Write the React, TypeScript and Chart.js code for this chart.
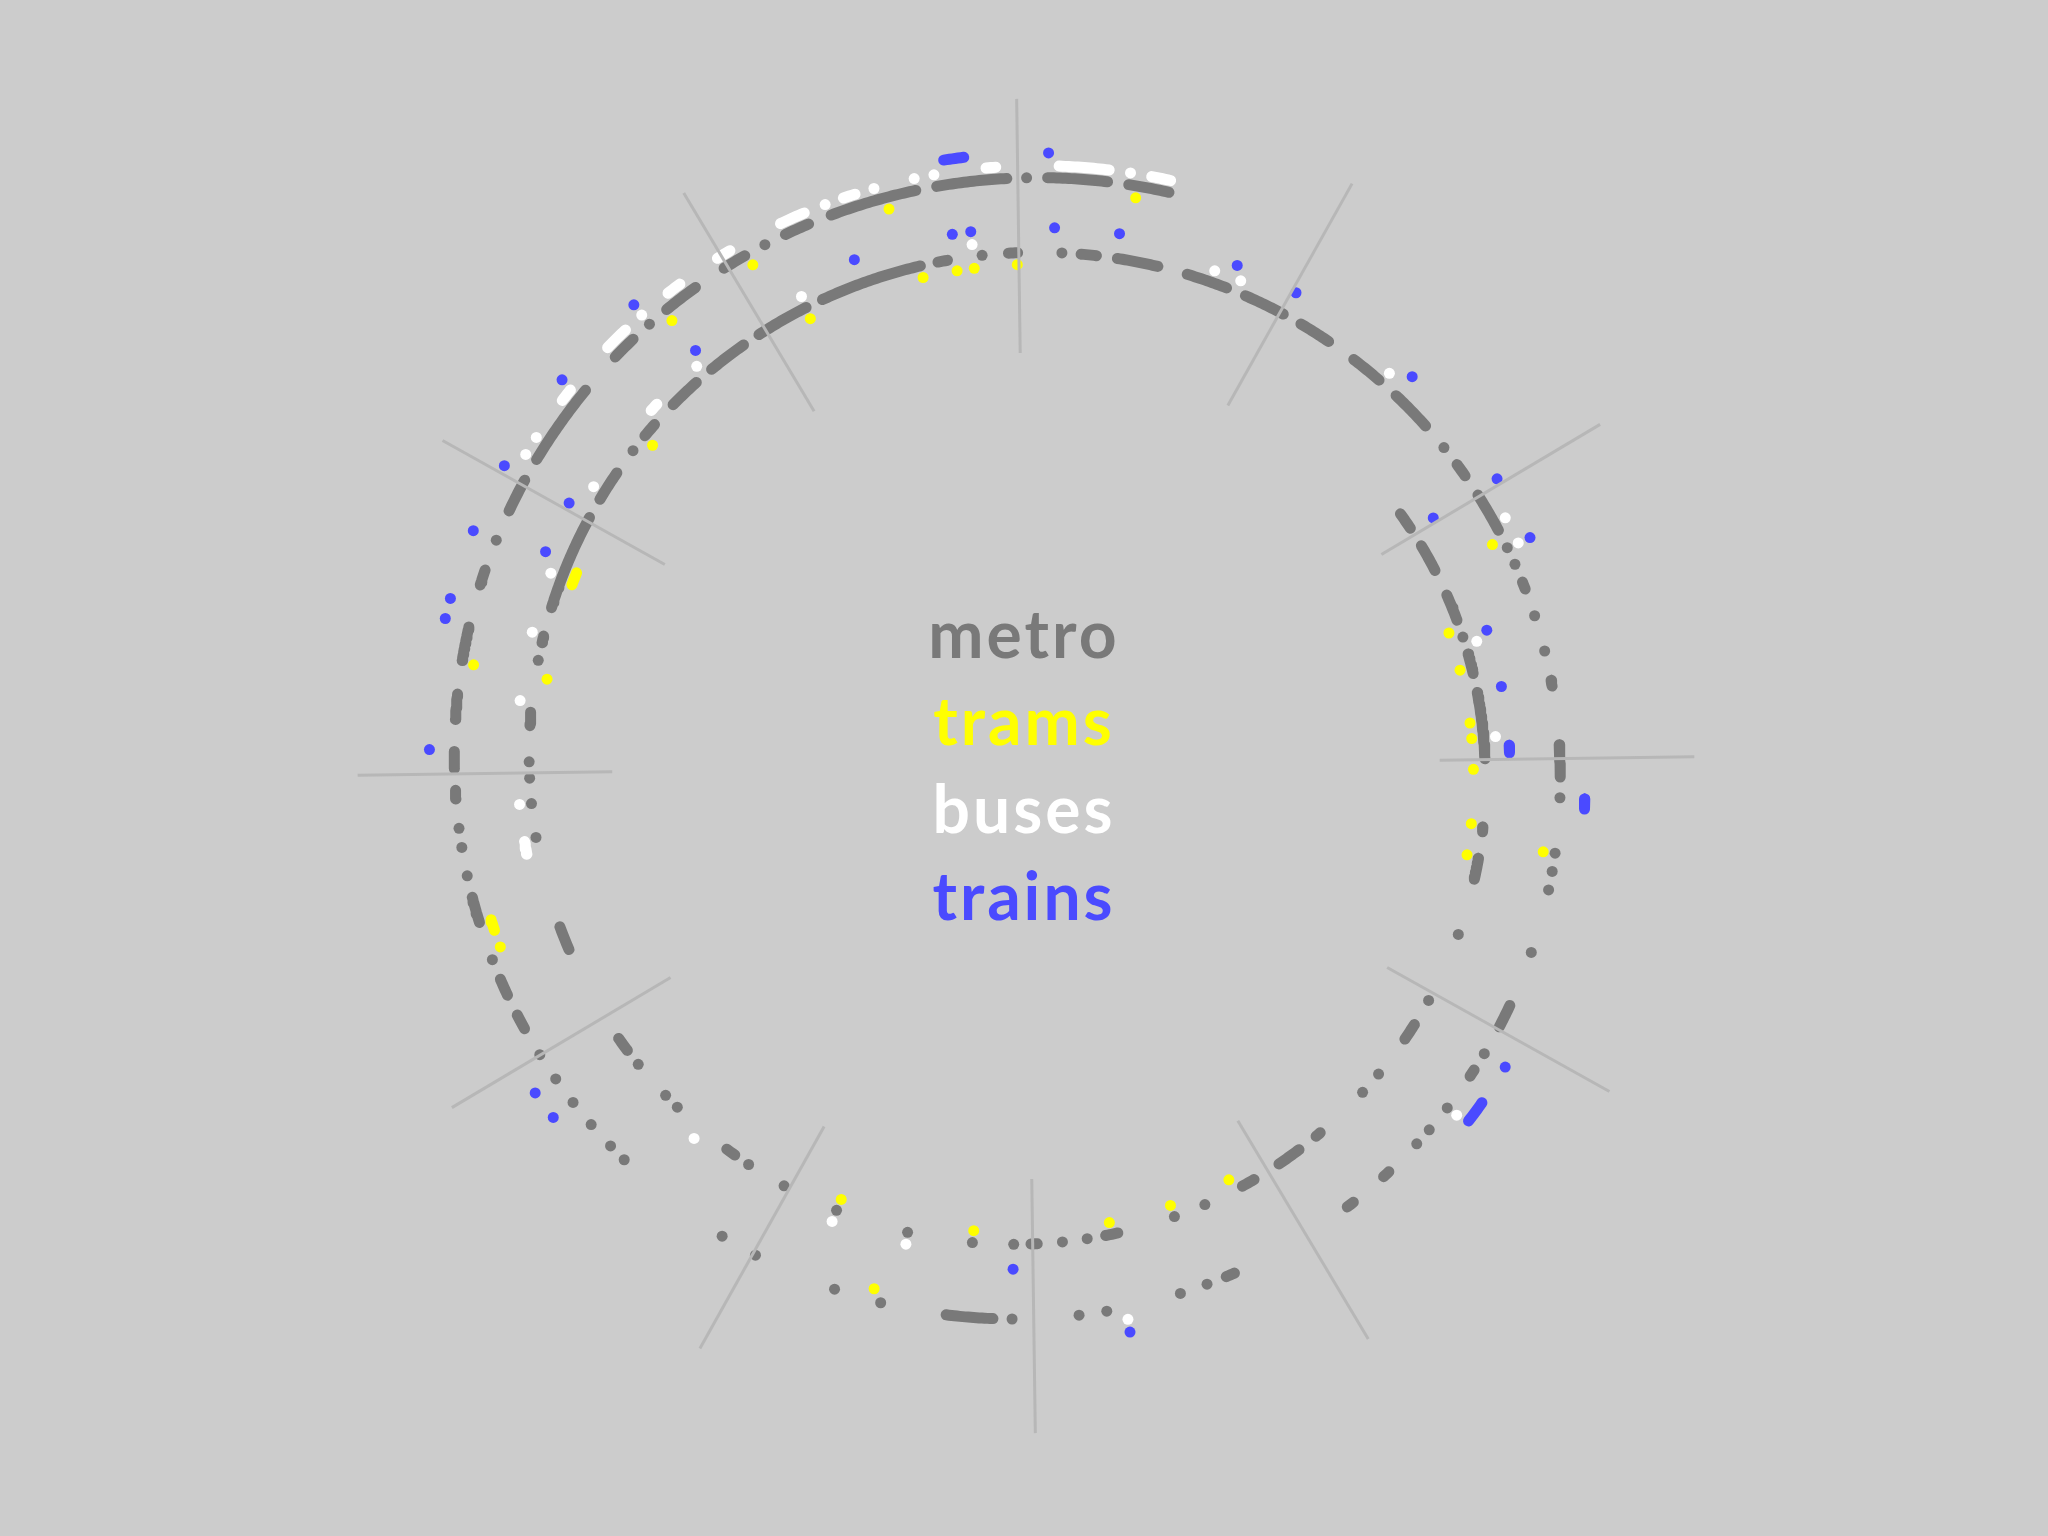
import React, { useEffect, useRef } from 'react';
import Chart from 'chart.js/auto';

// Times are hours along the spiral: 12 h per turn, clockwise from the top.
const hourTicks = [0, 1, 2, 3, 4, 5, 6, 7, 8, 9, 10, 11];
const modeLabels = ['metro', 'trams', 'buses', 'trains'];

const metroDashes: [number, number][] = [
  [1.863, 1.937], [2.024, 2.143], [2.258, 2.372], [2.521, 2.606], [2.687, 2.966],
  [3.25, 3.27], [3.381, 3.469], [4.12, 4.191], [4.708, 4.73], [4.818, 4.918],
  [5.037, 5.091], [5.629, 5.679], [5.955, 5.98], [7.228, 7.267], [7.818, 7.876],
  [8.273, 8.368], [9.159, 9.211], [9.481, 9.507], [9.62, 9.993], [10.073, 10.192],
  [10.368, 10.424], [10.527, 10.648], [10.724, 10.875], [10.945, 11.149], [11.217, 11.604],
  [11.671, 11.707], [11.935, 11.969], [12.204, 12.261], [12.339, 12.491], [12.603, 12.756],
  [12.831, 12.985], [13.059, 13.179], [13.292, 13.411], [13.495, 13.649], [13.83, 13.88],
  [13.964, 14.111], [14.318, 14.345], [14.687, 14.708], [14.92, 15.036], [15.876, 15.96],
  [16.137, 16.163], [16.606, 16.631], [16.77, 16.797], [17.255, 17.286], [18.114, 18.276],
  [20.08, 20.132], [20.207, 20.266], [20.47, 20.558], [20.893, 20.922], [20.995, 21.052],
  [21.159, 21.244], [21.357, 21.471], [21.616, 21.668], [21.88, 21.994], [22.073, 22.353],
  [22.5, 22.583], [22.73, 22.849], [22.962, 23.041], [23.191, 23.274], [23.353, 23.64],
  [23.709, 23.938], [24.07, 24.264], [24.333, 24.465],
];
const metroDots = [
  2.447, 3.707, 4.005, 4.37, 4.469, 5.26, 5.392, 5.754, 5.854, 6.049, 6.214, 6.475, 6.77,
  6.999, 7.162, 7.522, 7.587, 7.749, 8.727, 8.859, 8.957, 9.02, 9.412, 10.296, 11.837,
  12.133, 13.752, 14.182, 14.248, 14.447, 14.579, 15.11, 15.309, 15.375, 15.442, 15.673,
  16.069, 16.301, 16.401, 16.467, 17.358, 17.456, 17.719, 17.816, 18.048, 18.505, 18.67,
  18.965, 19.096, 19.52, 19.586, 19.684, 19.781, 19.88, 19.978, 20.337, 20.632, 20.729,
  20.794, 21.774, 22.656, 23.116, 24.002,
];

const tramDashes: [number, number][] = [[9.73, 9.78], [20.43, 20.468]];
const tramDots = [
  2.413, 2.58, 2.811, 2.878, 3.01, 3.242, 3.376, 5.129, 5.393, 5.655, 6.214, 6.77, 9.347,
  10.36, 11.145, 11.605, 11.737, 11.803, 11.967, 14.149, 15.311, 18.54, 20.369, 21.35,
  22.721, 23.05, 23.541, 24.363,
];

const busDashes: [number, number][] = [
  [8.669, 8.718], [10.454, 10.485], [22.279, 22.322], [22.504, 22.585], [22.766, 22.814],
  [22.96, 23.007], [23.191, 23.274], [23.408, 23.447], [23.873, 23.904], [24.105, 24.264],
  [24.4, 24.461],
];
const busDots = [
  2.48, 2.876, 6.47, 6.769, 7.391, 8.859, 9.25, 9.51, 9.741, 10.1, 10.688, 11.151, 11.804,
  12.693, 12.793, 13.422, 14.083, 14.183, 16.3, 17.652, 22.068, 22.133, 22.656, 23.346,
  23.51, 23.642, 23.706, 24.332,
];

const trainDashes: [number, number][] = [
  [2.914, 2.944], [15.109, 15.144], [16.214, 16.29], [23.743, 23.806],
];
const trainDots = [
  1.95, 2.448, 2.679, 6.049, 9.806, 10.002, 10.721, 11.378, 11.738, 11.804, 12.101, 12.331,
  12.76, 12.987, 13.488, 13.95, 14.183, 16.07, 17.653, 19.78, 19.879, 21.056, 21.479,
  21.545, 21.773, 22.002, 22.33, 22.658, 24.07,
];

const modes = [
  { label: modeLabels[0], color: '#797979', offset: 0, dashes: metroDashes, dots: metroDots },
  { label: modeLabels[1], color: '#ffff00', offset: -12, dashes: tramDashes, dots: tramDots },
  { label: modeLabels[2], color: '#ffffff', offset: 12, dashes: busDashes, dots: busDots },
  { label: modeLabels[3], color: '#4a4aff', offset: 25, dashes: trainDashes, dots: trainDots },
];

// spiral geometry (canvas pixels)
const CX = 1026;
const CY = 767;
const R0 = 443;
const R_PER_HOUR = 6.27;

const polar = (h: number, off: number) => {
  const a = (h * Math.PI) / 6;
  const r = R0 + R_PER_HOUR * h + off;
  return { x: CX + r * Math.sin(a), y: CY - r * Math.cos(a) };
};

const arc = ([a, b]: [number, number], off: number) => {
  const n = Math.max(2, Math.ceil((b - a) / 0.01) + 1);
  return Array.from({ length: n }, (_, i) => polar(a + ((b - a) * i) / (n - 1), off));
};

const spoke = (h: number, r: number) => {
  const a = ((h * 30 - 0.8) * Math.PI) / 180;
  return { x: CX + r * Math.sin(a), y: CY - 1 - r * Math.cos(a) };
};

const centreLegend = {
  id: 'centreLegend',
  afterDatasetsDraw(chart: Chart) {
    const ctx = chart.ctx;
    ctx.save();
    ctx.font = "bold 66px Lato, 'DejaVu Sans', sans-serif";
    (ctx as any).letterSpacing = '3px';
    ctx.textAlign = 'center';
    ctx.textBaseline = 'alphabetic';
    modes.forEach((m, i) => {
      ctx.fillStyle = m.color;
      ctx.fillText(m.label, 1024, 658 + i * 87.3);
    });
    ctx.restore();
  },
};

const App = () => {
  const chartRef = useRef<HTMLCanvasElement>(null);
  const chartInstance = useRef<Chart | null>(null);

  useEffect(() => {
    if (!chartRef.current) return;
    if (chartInstance.current) chartInstance.current.destroy();

    const datasets: any[] = [];
    hourTicks.forEach((h) => {
      datasets.push({
        data: [spoke(h, 416), spoke(h, 672)],
        showLine: true,
        borderColor: '#b7b7b7',
        borderWidth: 3,
        pointRadius: 0,
      });
    });
    modes.forEach((m) => {
      m.dashes.forEach((d) => {
        datasets.push({
          label: m.label,
          data: arc(d, m.offset),
          showLine: true,
          borderColor: m.color,
          borderWidth: 11,
          borderCapStyle: 'round',
          borderJoinStyle: 'round',
          pointRadius: 0,
        });
      });
      datasets.push({
        label: m.label,
        data: m.dots.map((h) => polar(h, m.offset)),
        showLine: false,
        pointRadius: 5.5,
        pointBackgroundColor: m.color,
        pointBorderWidth: 0,
        borderColor: m.color,
      });
    });

    chartInstance.current = new Chart(chartRef.current, {
      type: 'scatter',
      data: { datasets },
      options: {
        animation: false,
        responsive: true,
        maintainAspectRatio: false,
        events: [],
        layout: { padding: 0 },
        plugins: { legend: { display: false }, tooltip: { enabled: false } },
        scales: {
          x: { type: 'linear', min: 0, max: 2048, display: false },
          y: { type: 'linear', min: 0, max: 1536, reverse: true, display: false },
        },
      },
      plugins: [centreLegend],
    });

    return () => {
      if (chartInstance.current) {
        chartInstance.current.destroy();
        chartInstance.current = null;
      }
    };
  }, []);

  return (
    <div style={{ position: 'fixed', left: 0, top: 0, width: 2048, height: 1536, background: '#cccccc' }}>
      <canvas ref={chartRef}></canvas>
    </div>
  );
};

export default App;
